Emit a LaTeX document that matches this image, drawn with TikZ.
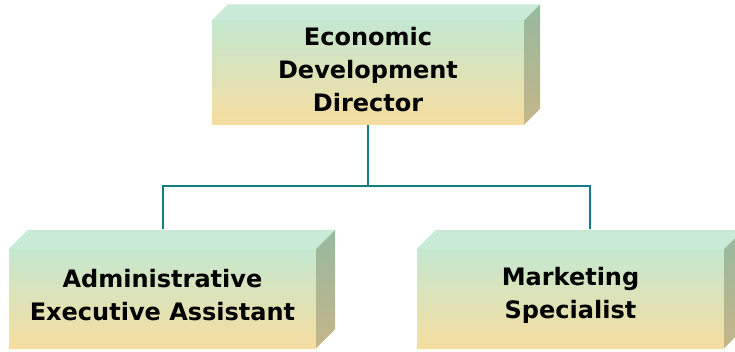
\documentclass[tikz,border=0pt]{standalone}
\usepackage{fontspec}
\setmainfont{DejaVu Sans}
\definecolor{fronttop}{RGB}{196,232,208}
\definecolor{frontbot}{RGB}{246,221,160}
\definecolor{topface}{RGB}{200,234,214}
\definecolor{sidetop}{RGB}{150,186,160}
\definecolor{sidebot}{RGB}{198,181,136}
\definecolor{conn}{RGB}{20,125,130}
\tikzset{
  front/.style={minimum width=#1, inner sep=0pt, top color=fronttop, bottom color=frontbot, draw=none},
  boxtext/.style={align=center, yshift=3pt, font=\fontsize{24}{33}\selectfont\bfseries},
  topf/.style={fill=topface, draw=none},
  sidef/.style={top color=sidetop, bottom color=sidebot, draw=none},
  connector/.style={draw=conn, line width=2pt}
}
\newcommand{\blockfaces}[2]{%
  \fill[topf] (#1.north west) -- ++(#2,-#2) -- ([xshift=#2 pt,yshift=#2 pt]#1.north east) -- (#1.north east) -- cycle;
  \shade[sidef] (#1.north east) -- ++(#2,-#2) -- ([xshift=#2 pt,yshift=#2 pt]#1.south east) -- (#1.south east) -- cycle;
}
\begin{document}
\begin{tikzpicture}[x=1pt,y=-1pt]
\useasboundingbox (0,0) rectangle (735,352);
\node[front=312pt, minimum height=104pt, label={[boxtext]center:Economic\\Development\\Director}] (top) at (368,72.5) {};
\blockfaces{top}{16}
\node[front=307pt, minimum height=99pt, label={[boxtext]center:Administrative\\Executive Assistant}] (left) at (162.5,298.5) {};
\blockfaces{left}{19}
\node[front=307pt, minimum height=99pt, label={[boxtext]center:Marketing\\Specialist}] (right) at (570.5,298.5) {};
\blockfaces{right}{19}
\coordinate (j) at (368,186);
\draw[connector] (top.south) -- (j);
\draw[connector] (j) -| ([yshift=20pt]left.north);
\draw[connector] (j) -| ([xshift=19pt,yshift=20pt]right.north);
\end{tikzpicture}
\end{document}
